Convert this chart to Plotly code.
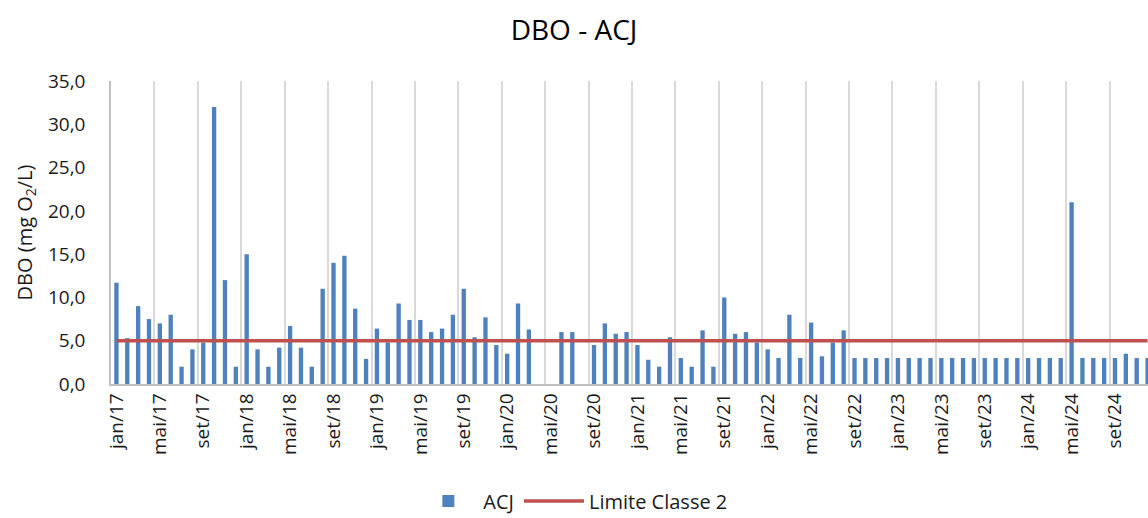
import plotly.graph_objects as go

# ---- data ----
months = ["jan", "fev", "mar", "abr", "mai", "jun", "jul", "ago", "set", "out", "nov", "dez"]
years = ["17", "18", "19", "20", "21", "22", "23", "24"]
labels = [f"{m}/{y}" for y in years for m in months]

acj_2017 = [11.7, 5.3, 9.0, 7.5, 7.0, 8.0, 2.0, 4.0, 4.8, 32.0, 12.0, 2.0]
acj_2018 = [15.0, 4.0, 2.0, 4.2, 6.7, 4.2, 2.0, 11.0, 14.0, 14.8, 8.7, 2.9]
acj_2019 = [6.4, 4.8, 9.3, 7.4, 7.4, 6.0, 6.4, 8.0, 11.0, 5.4, 7.7, 4.5]
acj_2020 = [3.5, 9.3, 6.3, None, None, 6.0, 6.0, None, 4.5, 7.0, 5.8, 6.0]
acj_2021 = [4.5, 2.8, 2.0, 5.4, 3.0, 2.0, 6.2, 2.0, 10.0, 5.8, 6.0, 4.8]
acj_2022 = [4.0, 3.0, 8.0, 3.0, 7.1, 3.2, 4.8, 6.2, 3.0, 3.0, 3.0, 3.0]
acj_2023 = [3.0, 3.0, 3.0, 3.0, 3.0, 3.0, 3.0, 3.0, 3.0, 3.0, 3.0, 3.0]
acj_2024 = [3.0, 3.0, 3.0, 3.0, 21.0, 3.0, 3.0, 3.0, 3.0, 3.5, 3.0, 3.0]

acj = acj_2017 + acj_2018 + acj_2019 + acj_2020 + acj_2021 + acj_2022 + acj_2023 + acj_2024
limite_classe_2_value = 5.0
limite = [limite_classe_2_value] * len(labels)

x = list(range(len(labels)))
tick_step = 4

FONT = "Open Sans"
BLUE = "#4F81BD"
RED = "#C0504D"
TXT = "#1a1a1a"

fig = go.Figure()
fig.add_trace(go.Bar(
    x=x, y=acj, name="ACJ",
    marker=dict(color=BLUE, line=dict(width=0)),
))
fig.add_trace(go.Scatter(
    x=x, y=limite, name="Limite Classe 2", mode="lines",
    line=dict(color=RED, width=3.5),
))

fig.update_layout(
    template="none",
    width=1148, height=518,
    paper_bgcolor="white", plot_bgcolor="white",
    margin=dict(l=111, r=0, t=81, b=134, autoexpand=False),
    bargap=0.6,
    font=dict(family=FONT, size=19, color=TXT),
    title=dict(text="DBO - ACJ", x=0.5, xref="container", xanchor="center",
               y=1 - 30 / 518, yref="container", yanchor="middle",
               font=dict(family=FONT, size=28, color="#000000")),
    showlegend=True,
    legend=dict(orientation="h", xref="container", x=0.499, xanchor="center",
                yref="container", y=1 - 501 / 518, yanchor="middle",
                bgcolor="rgba(0,0,0,0)",
                font=dict(family=FONT, size=20, color=TXT),
                itemwidth=60, tracegroupgap=0),
    separators=",.",
)

fig.update_xaxes(
    automargin=False,
    range=[-0.5, 95.04],
    tickmode="array",
    tickvals=x[::tick_step],
    ticktext=labels[::tick_step],
    tickangle=-90,
    showgrid=False,
    zeroline=False,
    showline=True, linecolor="#BFBFBF", linewidth=1.5,
    ticks="",
    minor=dict(tickmode="linear", tick0=-0.5, dtick=tick_step, showgrid=True,
               gridcolor="#D9D9D9", gridwidth=1.5, ticks=""),
    tickfont=dict(family=FONT, size=19, color=TXT),
)

fig.update_yaxes(
    automargin=False,
    range=[0, 35],
    dtick=5,
    tickformat=".1f",
    showgrid=False,
    zeroline=False,
    showline=True, linecolor="#BFBFBF", linewidth=1.5,
    ticks="",
    ticklabelstandoff=20,
    tickfont=dict(family=FONT, size=19, color=TXT),
    title=dict(text="DBO (mg O<sub>2</sub>/L)", standoff=10,
               font=dict(family=FONT, size=20, color=TXT)),
)

fig.write_html(
    "out.html",
    config={"displayModeBar": False},
    post_script="document.body.style.margin='0px';document.body.style.overflow='hidden';",
)
